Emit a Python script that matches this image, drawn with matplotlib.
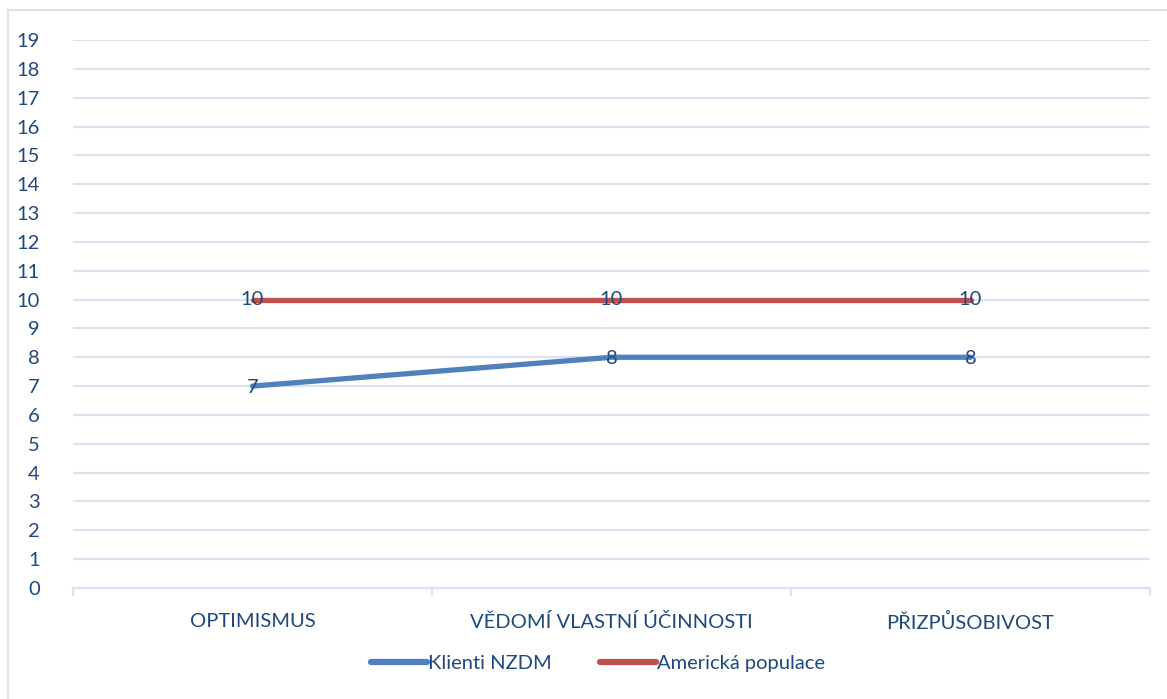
import matplotlib.pyplot as plt
from matplotlib.patches import Rectangle

plt.rcParams['font.family'] = ['Lato', 'DejaVu Sans']

categories = ['OPTIMISMUS', 'VĚDOMÍ VLASTNÍ ÚČINNOSTI', 'PŘIZPŮSOBIVOST']
klienti = [7, 8, 8]
americka = [10, 10, 10]

text_col = '#1F497D'
grid_col = '#D9E2F1'
fs = 14.5

fig = plt.figure(figsize=(11.67, 6.99), dpi=100)
# chart border (cut off on the right and bottom)
fig.patches.append(Rectangle((8 / 1167, -0.1), 1.2, 1 - 10 / 699 + 0.1,
                             transform=fig.transFigure, fill=False,
                             edgecolor='#D9E2F1', linewidth=1.5))

ax = fig.add_axes([73 / 1167, 1 - 588 / 699, (1150 - 73) / 1167, (588 - 40) / 699])

x = range(len(categories))
ax.plot(x, klienti, color='#4F81BD', linewidth=3.8, solid_capstyle='round',
        label='Klienti NZDM', zorder=3)
ax.plot(x, americka, color='#C0504D', linewidth=3.8, solid_capstyle='round',
        label='Americká populace', zorder=3)

for xi, v in zip(x, klienti):
    ax.text(xi, v - 0.05, str(v), ha='center', va='center', fontsize=fs, color=text_col, zorder=4)
for xi, v in zip(x, americka):
    ax.text(xi, v, str(v), ha='center', va='center', fontsize=fs, color=text_col, zorder=4)

ax.set_xlim(-0.5, 2.5)
ax.set_ylim(0, 19)
ax.set_yticks(range(0, 20))
ax.set_xticks(list(x))
ax.set_xticklabels(categories)
ax.tick_params(axis='y', length=0, pad=24, labelsize=fs, labelcolor=text_col)
ax.tick_params(axis='x', length=0, pad=18, labelsize=fs, labelcolor=text_col)
for lab in ax.get_yticklabels():
    lab.set_horizontalalignment('right')

# category boundary ticks
ax.set_xticks([-0.5, 0.5, 1.5, 2.5], minor=True)
ax.tick_params(axis='x', which='minor', length=6, width=1.5, color=grid_col, direction='out')

ax.grid(axis='y', color=grid_col, linewidth=1.5)
ax.set_axisbelow(True)
for s in ['top', 'right', 'left']:
    ax.spines[s].set_visible(False)
ax.spines['bottom'].set_color(grid_col)
ax.spines['bottom'].set_linewidth(1.5)

leg = fig.legend(loc='center', bbox_to_anchor=(598 / 1167, 1 - 663 / 699), ncol=2,
                 frameon=False, fontsize=fs, handlelength=2.8, handletextpad=0.05,
                 columnspacing=2.4)
for line in leg.get_lines():
    line.set_linewidth(4.5)
for t in leg.get_texts():
    t.set_color(text_col)

fig.savefig('out.png', dpi=100)
